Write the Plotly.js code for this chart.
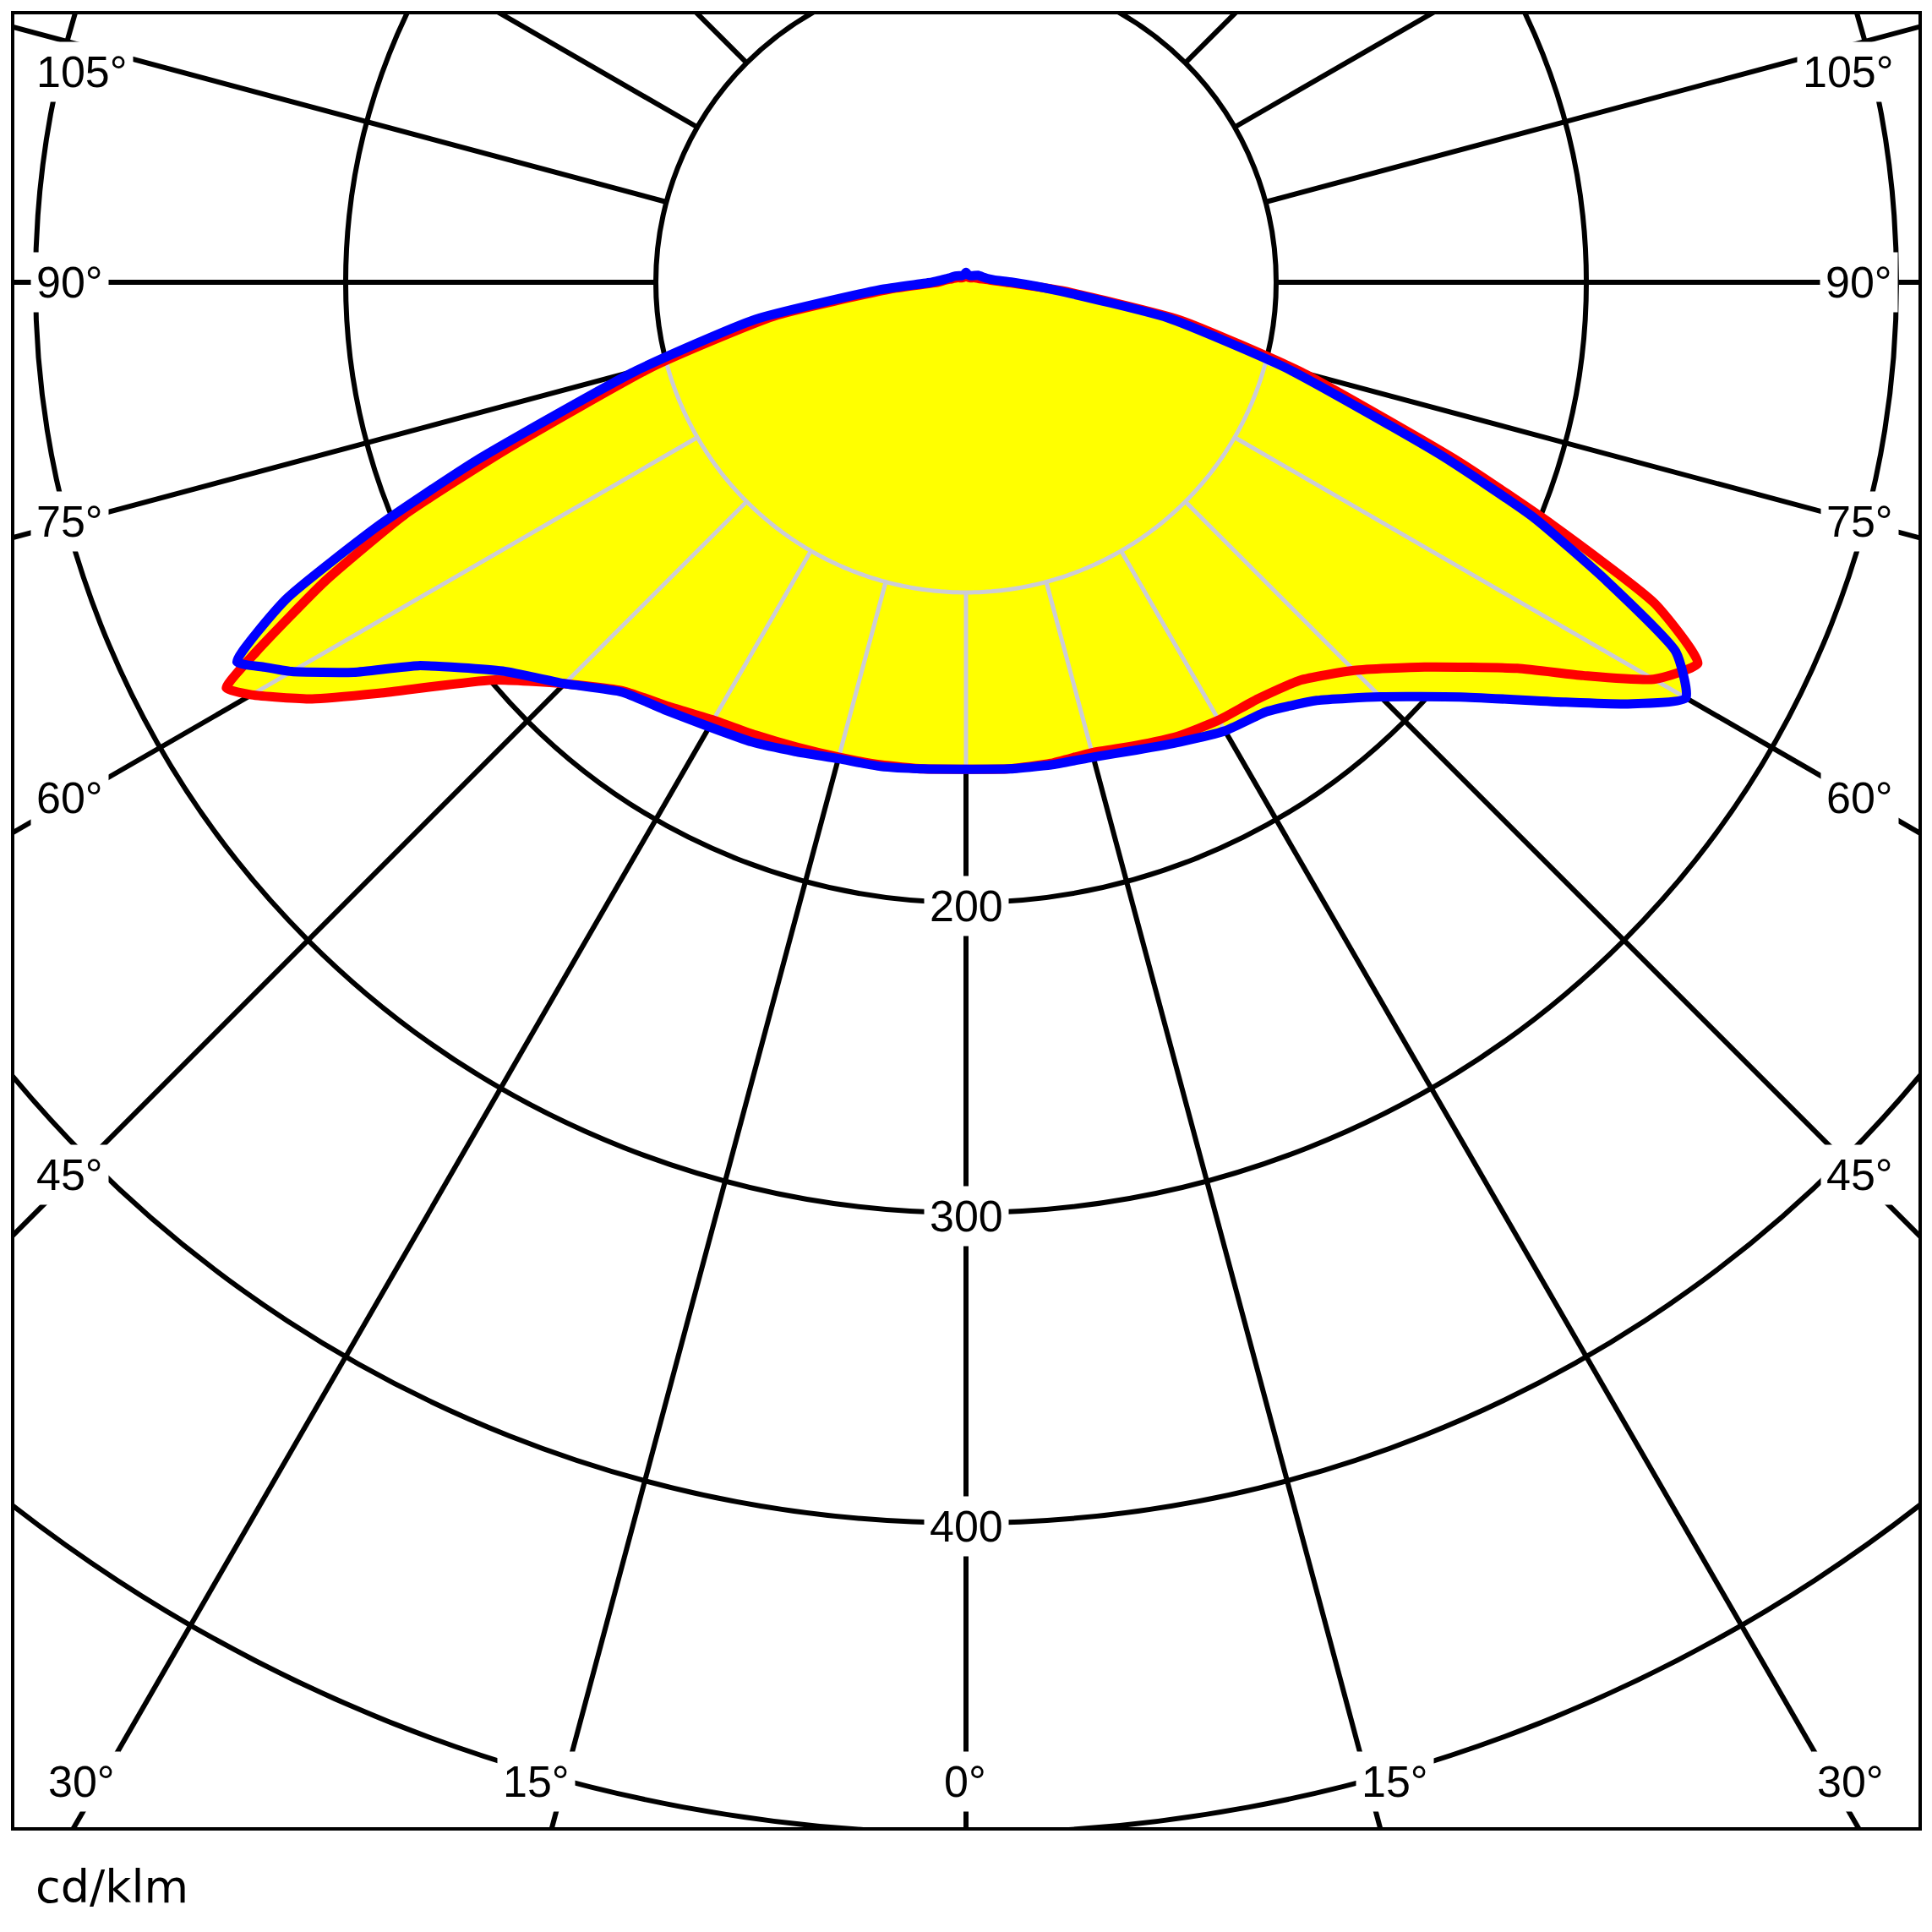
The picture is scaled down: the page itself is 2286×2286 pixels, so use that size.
<!DOCTYPE html>
<html>
<head>
<meta charset="utf-8">
<script src="https://cdn.plot.ly/plotly-3.0.1.min.js"></script>
<style>
  html, body { margin: 0; padding: 0; width: 2286px; height: 2286px; overflow: hidden; background: #fff; }
  #frame { position: absolute; left: 13px; top: 13px; width: 2261px; height: 2153px; box-sizing: border-box;
           border: 4px solid #000; overflow: hidden; background: #fff; }
  #chart { position: absolute; }
  #unit { position: absolute; left: 42px; top: 2206px; font-family: 'DejaVu Sans', Verdana, sans-serif;
          font-size: 54px; line-height: 1; color: #000; white-space: nowrap; }
</style>
</head>
<body>
<div id="frame"><div id="chart"></div></div>
<div id="unit">cd/klm</div>
<script>
// ---------------- data ----------------
// gamma angles (degrees, 0 = straight down, positive = right half)
const THETA = [-180,-165,-150,-135,-120,-105,-100,-95,-90,-85,-80,-75,-70,-67.5,-65,-62.5,-61.25,-60,-57.5,-55,
               -50,-45,-40,-35,-30,-25,-20,-15,-10,-5,0,5,10,15,20,25,30,35,40,45,50,55,57.5,60,62.5,65,67.5,
               70,75,80,85,90,95,100,105,120,135,150,165,180];
// red curve, cd/klm
const RED = [2,1.8,1.8,2,3,4.5,5.5,7,9,24,63,104,158,196,228,258,272,266,250,231,
             199.5,183,172,167,163,161,159.5,158.5,158,157.5,157,157.5,157.5,157,159,161.5,163,164,167.5,177,193,217,236,256,266,245,205,
             169,112,70,31,13,8,6,4.5,3,2,1.8,1.8,2];
// blue curve, cd/klm
const BLUE = [3.2,2.5,2.5,3,4,5.5,6.5,8,11,28,69,110,168,205,242,265,258,251,234,215.5,
              195,183,172.5,168.5,165.5,163.5,161,159,158.5,157.5,157,157.5,158,158.5,160.5,163.5,167,169,176,189,208,236,253,268,258,228,198,
              163,107,66,29,15,9,7,6,4.5,3,2.5,2.5,3.2];
// grid
const SPOKE_ANGLES = [0,15,30,45,60,75,90,105,120,135,150,165,180,195,210,225,240,255,270,285,300,315,330,345];
const RING_LABELS = [200, 300, 400];
const ANGLE_TEXT = ['105°','90°','75°','60°','45°','30°','15°','0°','15°','30°','45°','60°','75°','90°','105°'];

// ---------------- layout geometry (page pixels) ----------------
const CX = 1143, CY = 334;          // pole of the diagram
const PX_PER_UNIT = 3.67;           // pixels per cd/klm
const R_MAX = 600;                  // radial range of the polar subplot
const R_PX = R_MAX * PX_PER_UNIT;   // subplot radius in px
const SIZE = 2 * R_PX;
const FRAME_IN_X = 17, FRAME_IN_Y = 17;
const GRID_INNER = 100;
const ANGLE_POS = [[97,85],[82,334],[82,617],[82,944],[82,1390],[96,2108],[634,2108],[1142,2108],[1650,2108],
                   [2189,2108],[2200,1390],[2200,944],[2200,617],[2199,334],[2187,85]];

const chartDiv = document.getElementById('chart');
chartDiv.style.left = (CX - R_PX - FRAME_IN_X) + 'px';
chartDiv.style.top = (CY - R_PX - FRAME_IN_Y) + 'px';
chartDiv.style.width = SIZE + 'px';
chartDiv.style.height = SIZE + 'px';

function toPaper(X, Y) {
  return { x: (X - (CX - R_PX)) / SIZE, y: 1 - (Y - (CY - R_PX)) / SIZE };
}

// black spokes, from ring 100 outwards
const spR = [], spT = [];
SPOKE_ANGLES.forEach(a => { spR.push(GRID_INNER, R_MAX, null); spT.push(a, a, null); });

// light grid inside the lit area
const lR = [], lT = [];
SPOKE_ANGLES.forEach(a => {
  const t = a > 180 ? a - 360 : a;
  const i = THETA.indexOf(t);
  if (i >= 0) {
    const rm = Math.max(RED[i], BLUE[i]);
    if (rm > GRID_INNER) { lR.push(GRID_INNER, rm, null); lT.push(t, t, null); }
  }
});
const arcR = [], arcT = [];
for (let a = -75.5; a <= 75.5001; a += 0.5) { arcR.push(GRID_INNER); arcT.push(a); }

const LIGHT = 'rgb(204,204,214)';
const SMOOTH = { shape: 'spline', smoothing: 0.5 };
const traces = [
  { type: 'scatterpolar', mode: 'lines', r: spR, theta: spT, line: { color: '#000', width: 6 }, hoverinfo: 'skip' },
  { type: 'scatterpolar', mode: 'lines', r: RED, theta: THETA, fill: 'toself', fillcolor: '#ffff00',
    line: Object.assign({ width: 0, color: 'rgba(0,0,0,0)' }, SMOOTH), hoverinfo: 'skip' },
  { type: 'scatterpolar', mode: 'lines', r: BLUE, theta: THETA, fill: 'toself', fillcolor: '#ffff00',
    line: Object.assign({ width: 0, color: 'rgba(0,0,0,0)' }, SMOOTH), hoverinfo: 'skip' },
  { type: 'scatterpolar', mode: 'lines', r: lR, theta: lT, line: { color: LIGHT, width: 5 }, hoverinfo: 'skip' },
  { type: 'scatterpolar', mode: 'lines', r: arcR, theta: arcT, line: { color: LIGHT, width: 5 }, hoverinfo: 'skip' },
  { type: 'scatterpolar', mode: 'lines', name: 'C0-C180', r: RED, theta: THETA,
    line: Object.assign({ color: '#ff0000', width: 11 }, SMOOTH) },
  { type: 'scatterpolar', mode: 'lines', name: 'C90-C270', r: BLUE, theta: THETA,
    line: Object.assign({ color: '#0000ff', width: 11 }, SMOOTH) }
];

const labelFont = { family: 'Liberation Sans, Arial, sans-serif', size: 52, color: '#000' };
const annotations = [];
ANGLE_TEXT.forEach((txt, k) => {
  const p = toPaper(ANGLE_POS[k][0], ANGLE_POS[k][1]);
  annotations.push({ text: txt, x: p.x, y: p.y, xref: 'paper', yref: 'paper', showarrow: false,
    xanchor: 'center', yanchor: 'middle', bgcolor: '#ffffff', borderpad: 6, font: labelFont });
});
RING_LABELS.forEach(v => {
  const p = toPaper(CX, CY + v * PX_PER_UNIT + 4);
  annotations.push({ text: String(v), x: p.x, y: p.y, xref: 'paper', yref: 'paper', showarrow: false,
    xanchor: 'center', yanchor: 'middle', bgcolor: '#ffffff', borderpad: 6, font: labelFont });
});

const layout = {
  width: SIZE, height: SIZE,
  margin: { l: 0, r: 0, t: 0, b: 0, pad: 0 },
  paper_bgcolor: '#ffffff',
  showlegend: false,
  polar: {
    domain: { x: [0, 1], y: [0, 1] },
    bgcolor: '#ffffff',
    radialaxis: { range: [0, R_MAX], tick0: 0, dtick: 100, showgrid: true, gridcolor: '#000', gridwidth: 6,
                  showline: false, showticklabels: false, ticks: '' },
    angularaxis: { rotation: 270, direction: 'counterclockwise', showgrid: false, showline: false,
                   showticklabels: false, ticks: '' }
  },
  annotations: annotations
};

Plotly.newPlot(chartDiv, traces, layout, { displayModeBar: false, staticPlot: true });
</script>
</body>
</html>
